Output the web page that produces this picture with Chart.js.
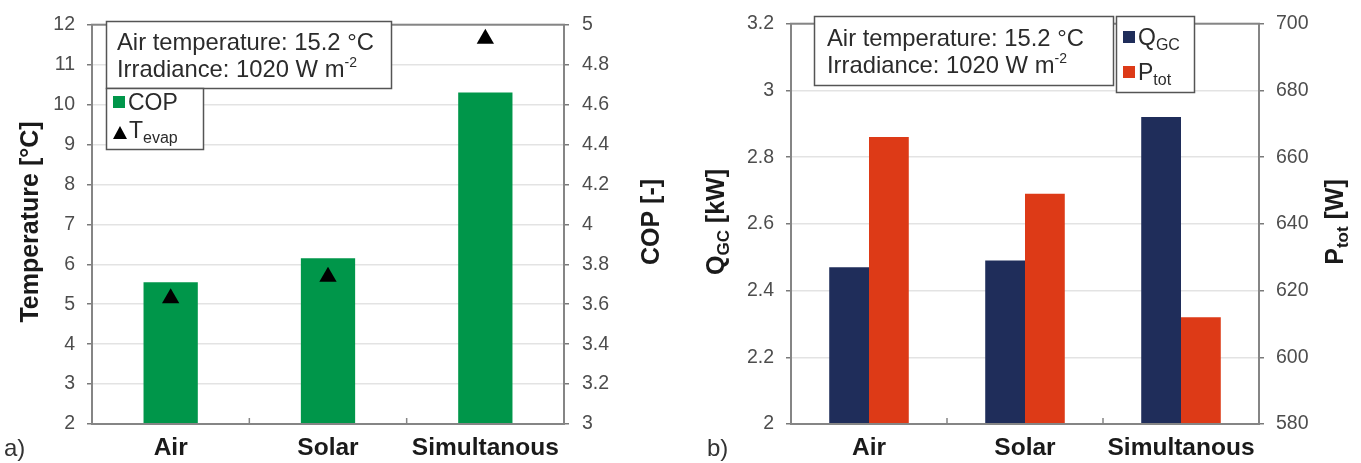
<!DOCTYPE html>
<html>
<head>
<meta charset="utf-8">
<script src="https://cdn.jsdelivr.net/npm/chart.js@4.4.1/dist/chart.umd.min.js"></script>
<style>
  html, body { margin: 0; padding: 0; background: #fff; }
  #wrap { position: relative; width: 1361px; height: 463px; overflow: hidden; }
  canvas { position: absolute; top: 0; }
</style>
</head>
<body>
<div id="wrap">
  <canvas id="chartA" width="680" height="463" style="left:0"></canvas>
  <canvas id="chartB" width="681" height="463" style="left:680px"></canvas>
</div>
<script>
// Operating modes
const categories = ['Air', 'Solar', 'Simultanous'];
// Panel a): coefficient of performance and evaporation temperature
const copValues = [3.71, 3.83, 4.66];
const evapTemperatures = [5.15, 5.69, 11.65];
// Panel b): gas cooler heat output and total power input
const qgcValues = [2.47, 2.49, 2.92];
const ptotValues = [666, 649, 612];

// Axis ranges
const tempRange = { min: 2, max: 12, step: 1 };
const copRange = { min: 3, max: 5, step: 0.2 };
const qgcRange = { min: 2, max: 3.2, step: 0.2 };
const ptotRange = { min: 580, max: 700, step: 20 };

const FONT = '"Liberation Sans", Arial, Helvetica, sans-serif';
const GREEN = '#00964a';
const NAVY = '#1f2d5a';
const RED = '#dd3a17';
const TICK_COLOR = '#4d4d4d';
const GRID_COLOR = '#e3e3e3';
const FRAME_COLOR = '#858585';

const fmt = v => String(Math.round(v * 10) / 10);

function fixedWidth(w) { return scale => { scale.width = w; }; }
function fixedHeight(h) { return scale => { scale.height = h; }; }

// Draws a run of text pieces (normal, sub- and superscript) from a baseline
function drawRich(ctx, parts, x, y, align) {
  let total = 0;
  parts.forEach(p => {
    ctx.font = `${p.weight || 'normal'} ${p.size}px ${FONT}`;
    p.w = ctx.measureText(p.text).width;
    total += p.w;
  });
  let cx = align === 'center' ? x - total / 2 : x;
  ctx.textAlign = 'left';
  ctx.textBaseline = 'alphabetic';
  parts.forEach(p => {
    ctx.font = `${p.weight || 'normal'} ${p.size}px ${FONT}`;
    ctx.fillText(p.text, cx, y + (p.shift || 0));
    cx += p.w;
  });
}

function drawVertical(ctx, parts, cx, cy) {
  ctx.save();
  ctx.translate(cx, cy);
  ctx.rotate(-Math.PI / 2);
  drawRich(ctx, parts, 0, 0, 'center');
  ctx.restore();
}

function box(ctx, x, y, w, h) {
  ctx.fillStyle = '#fff';
  ctx.fillRect(x, y, w, h);
  ctx.strokeStyle = '#555';
  ctx.lineWidth = 1.5;
  ctx.strokeRect(x + 0.5, y + 0.5, w, h);
}

// Plot frame plus the small inward ticks between categories
function drawFrame(chart) {
  const { ctx, chartArea: a } = chart;
  ctx.save();
  ctx.strokeStyle = FRAME_COLOR;
  ctx.lineWidth = 2;
  ctx.strokeRect(a.left, a.top, a.right - a.left, a.bottom - a.top);
  const x = chart.scales.x;
  ctx.lineWidth = 1.5;
  for (let i = 1; i < categories.length; i++) {
    const px = (x.getPixelForValue(i - 1) + x.getPixelForValue(i)) / 2;
    ctx.beginPath();
    ctx.moveTo(px, a.bottom);
    ctx.lineTo(px, a.bottom - 6);
    ctx.stroke();
  }
  ctx.restore();
}

const annotationsA = {
  id: 'annotationsA',
  afterDatasetsDraw(chart) {
    const ctx = chart.ctx;
    drawFrame(chart);
    ctx.save();
    // condition box
    box(ctx, 106, 21, 285, 67);
    ctx.fillStyle = '#2b2b2b';
    drawRich(ctx, [{ text: 'Air temperature: 15.2 °C', size: 23.8 }], 117, 50);
    drawRich(ctx, [{ text: 'Irradiance: 1020 W m', size: 23.8 }, { text: '-2', size: 14, shift: -10 }], 117, 77);
    // legend
    box(ctx, 106, 88, 97, 61);
    ctx.fillStyle = GREEN;
    ctx.fillRect(113, 96, 12, 12);
    ctx.fillStyle = '#2b2b2b';
    drawRich(ctx, [{ text: 'COP', size: 23 }], 128, 110);
    ctx.fillStyle = '#000';
    ctx.beginPath();
    ctx.moveTo(120, 126);
    ctx.lineTo(127, 139);
    ctx.lineTo(113, 139);
    ctx.closePath();
    ctx.fill();
    ctx.fillStyle = '#2b2b2b';
    drawRich(ctx, [{ text: 'T', size: 23 }, { text: 'evap', size: 16, shift: 5 }], 129, 138);
    // axis titles
    ctx.fillStyle = '#1a1a1a';
    drawVertical(ctx, [{ text: 'Temperature [°C]', size: 25, weight: 'bold' }], 38, 222);
    drawVertical(ctx, [{ text: 'COP [-]', size: 25, weight: 'bold' }], 659, 222);
    // panel label
    ctx.fillStyle = '#333';
    drawRich(ctx, [{ text: 'a)', size: 24 }], 4, 456);
    ctx.restore();
  }
};

const annotationsB = {
  id: 'annotationsB',
  afterDatasetsDraw(chart) {
    const ctx = chart.ctx;
    drawFrame(chart);
    ctx.save();
    // condition box
    box(ctx, 134, 16, 299, 69);
    ctx.fillStyle = '#2b2b2b';
    drawRich(ctx, [{ text: 'Air temperature: 15.2 °C', size: 23.8 }], 147, 46);
    drawRich(ctx, [{ text: 'Irradiance: 1020 W m', size: 23.8 }, { text: '-2', size: 14, shift: -10 }], 147, 73);
    // legend
    box(ctx, 436, 16, 78, 76);
    ctx.fillStyle = NAVY;
    ctx.fillRect(443, 31, 12, 12);
    ctx.fillStyle = RED;
    ctx.fillRect(443, 66, 12, 12);
    ctx.fillStyle = '#2b2b2b';
    drawRich(ctx, [{ text: 'Q', size: 23 }, { text: 'GC', size: 16, shift: 5 }], 458, 45);
    drawRich(ctx, [{ text: 'P', size: 23 }, { text: 'tot', size: 16, shift: 5 }], 458, 80);
    // axis titles
    ctx.fillStyle = '#1a1a1a';
    drawVertical(ctx, [{ text: 'Q', size: 25, weight: 'bold' }, { text: 'GC', size: 17, weight: 'bold', shift: 5 }, { text: ' [kW]', size: 25, weight: 'bold' }], 44, 222);
    drawVertical(ctx, [{ text: 'P', size: 25, weight: 'bold' }, { text: 'tot', size: 17, weight: 'bold', shift: 5 }, { text: ' [W]', size: 25, weight: 'bold' }], 663, 222);
    // panel label
    ctx.fillStyle = '#333';
    drawRich(ctx, [{ text: 'b)', size: 24 }], 27, 456);
    ctx.restore();
  }
};

function valueAxis(range, position, width, gridOnArea, padding) {
  return {
    type: 'linear',
    position,
    min: range.min,
    max: range.max,
    afterFit: fixedWidth(width),
    afterBuildTicks: s => {
      const t = [];
      for (let v = range.min; v <= range.max + 1e-9; v += range.step) t.push({ value: Math.round(v * 100) / 100 });
      s.ticks = t;
    },
    border: { display: false },
    grid: {
      drawOnChartArea: gridOnArea,
      color: GRID_COLOR,
      lineWidth: 1.5,
      tickColor: '#7a7a7a',
      tickLength: 5,
      drawTicks: true
    },
    ticks: {
      color: TICK_COLOR,
      padding,
      font: { family: FONT, size: 19.5 },
      callback: v => fmt(v)
    }
  };
}

function categoryAxis() {
  return {
    type: 'category',
    offset: true,
    afterFit: fixedHeight(39),
    border: { display: false },
    grid: { display: false, drawTicks: false },
    ticks: {
      color: '#1a1a1a',
      padding: 10,
      font: { family: FONT, size: 24.5, weight: 'bold' }
    }
  };
}

Chart.defaults.font.family = FONT;

new Chart(document.getElementById('chartA'), {
  data: {
    labels: categories,
    datasets: [
      {
        type: 'line',
        label: 'Tevap',
        data: evapTemperatures,
        yAxisID: 'y',
        showLine: false,
        pointStyle: 'triangle',
        pointRadius: 10,
        pointBackgroundColor: '#000',
        pointBorderColor: '#000',
        pointBorderWidth: 0,
        order: 0
      },
      {
        type: 'bar',
        label: 'COP',
        data: copValues,
        yAxisID: 'y2',
        backgroundColor: GREEN,
        categoryPercentage: 1,
        barPercentage: 0.345,
        order: 1
      }
    ]
  },
  options: {
    responsive: false,
    animation: false,
    layout: { padding: { top: 20, left: 0, right: 0, bottom: 0 } },
    plugins: { legend: { display: false }, tooltip: { enabled: false } },
    scales: {
      x: categoryAxis(),
      y: valueAxis(tempRange, 'left', 92, true, 12),
      y2: valueAxis(copRange, 'right', 116, false, 13)
    }
  },
  plugins: [annotationsA]
});

new Chart(document.getElementById('chartB'), {
  type: 'bar',
  data: {
    labels: categories,
    datasets: [
      {
        label: 'QGC',
        data: qgcValues,
        yAxisID: 'y',
        backgroundColor: NAVY,
        categoryPercentage: 0.51,
        barPercentage: 1
      },
      {
        label: 'Ptot',
        data: ptotValues,
        yAxisID: 'y2',
        backgroundColor: RED,
        categoryPercentage: 0.51,
        barPercentage: 1
      }
    ]
  },
  options: {
    responsive: false,
    animation: false,
    layout: { padding: { top: 20, left: 0, right: 0, bottom: 0 } },
    plugins: { legend: { display: false }, tooltip: { enabled: false } },
    scales: {
      x: categoryAxis(),
      y: valueAxis(qgcRange, 'left', 111, true, 12),
      y2: valueAxis(ptotRange, 'right', 102, false, 12)
    }
  },
  plugins: [annotationsB]
});
</script>
</body>
</html>
